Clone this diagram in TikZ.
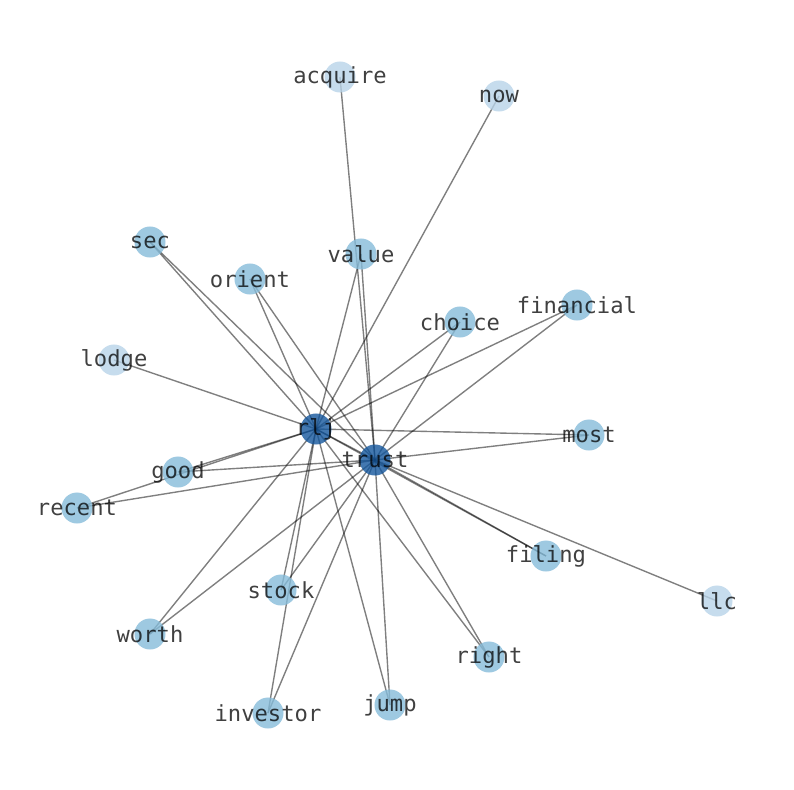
\documentclass[tikz,border=0pt]{standalone}
\usepackage{fontspec}
\newfontfamily\wordfont{DejaVu Sans Mono}
\usetikzlibrary{backgrounds}

\definecolor{lowblue}{RGB}{184,211,232}
\definecolor{midblue}{RGB}{134,188,218}
\definecolor{hubblue}{RGB}{20,86,156}

\tikzset{
	dot/.style = {circle, inner sep=0pt, minimum size=0.31in, fill opacity=0.8, draw=none,
		label={[text=black, text opacity=0.75, fill opacity=1, font=\wordfont\fontsize{16}{19}\selectfont, inner sep=0pt]center:#1}},
	leaf/.style = {dot=#1, fill=lowblue},
	twig/.style = {dot=#1, fill=midblue},
	hub/.style = {dot=#1, fill=hubblue},
	link/.style = {draw=black, draw opacity=0.5, line width=1pt}
}

\begin{document}
\begin{tikzpicture}[x=0.01in, y=-0.01in]
		\useasboundingbox (0,0) rectangle (794,790);
		% words
		\node[leaf=acquire] (acquire) at (340,77) {};
		\node[leaf=now] (now) at (499,96) {};
		\node[twig=sec] (sec) at (150,242) {};
		\node[twig=value] (value) at (361,254) {};
		\node[twig=orient] (orient) at (250,279) {};
		\node[twig=financial] (financial) at (577,305) {};
		\node[twig=choice] (choice) at (460,322) {};
		\node[leaf=lodge] (lodge) at (114,360) {};
		\node[hub=rlj] (rlj) at (316,429) {};
		\node[twig=most] (most) at (589,435) {};
		\node[hub=trust] (trust) at (375,460) {};
		\node[twig=good] (good) at (178,472) {};
		\node[twig=recent] (recent) at (77,508) {};
		\node[twig=filing] (filing) at (546,556) {};
		\node[leaf=llc] (llc) at (717,601) {};
		\node[twig=stock] (stock) at (281,590) {};
		\node[twig=worth] (worth) at (150,634) {};
		\node[twig=right] (right) at (489,657) {};
		\node[twig=investor] (investor) at (268,713) {};
		\node[twig=jump] (jump) at (390,705) {};

		% edges
		\begin{pgfonlayer}{background}
		\draw[link] (rlj.center) -- (trust.center);
		\draw[link] (rlj.center) -- (now.center);
		\draw[link] (rlj.center) -- (sec.center);
		\draw[link] (rlj.center) -- (value.center);
		\draw[link] (rlj.center) -- (orient.center);
		\draw[link] (rlj.center) -- (financial.center);
		\draw[link] (rlj.center) -- (choice.center);
		\draw[link] (rlj.center) -- (lodge.center);
		\draw[link] (rlj.center) -- (most.center);
		\draw[link] (rlj.center) -- (good.center);
		\draw[link] (rlj.center) -- (recent.center);
		\draw[link] (rlj.center) -- (filing.center);
		\draw[link] (rlj.center) -- (stock.center);
		\draw[link] (rlj.center) -- (worth.center);
		\draw[link] (rlj.center) -- (right.center);
		\draw[link] (rlj.center) -- (investor.center);
		\draw[link] (rlj.center) -- (jump.center);
		\draw[link] (trust.center) -- (acquire.center);
		\draw[link] (trust.center) -- (sec.center);
		\draw[link] (trust.center) -- (value.center);
		\draw[link] (trust.center) -- (orient.center);
		\draw[link] (trust.center) -- (financial.center);
		\draw[link] (trust.center) -- (choice.center);
		\draw[link] (trust.center) -- (most.center);
		\draw[link] (trust.center) -- (good.center);
		\draw[link] (trust.center) -- (recent.center);
		\draw[link] (trust.center) -- (filing.center);
		\draw[link] (trust.center) -- (llc.center);
		\draw[link] (trust.center) -- (stock.center);
		\draw[link] (trust.center) -- (worth.center);
		\draw[link] (trust.center) -- (right.center);
		\draw[link] (trust.center) -- (investor.center);
		\draw[link] (trust.center) -- (jump.center);
		\end{pgfonlayer}
\end{tikzpicture}
\end{document}
